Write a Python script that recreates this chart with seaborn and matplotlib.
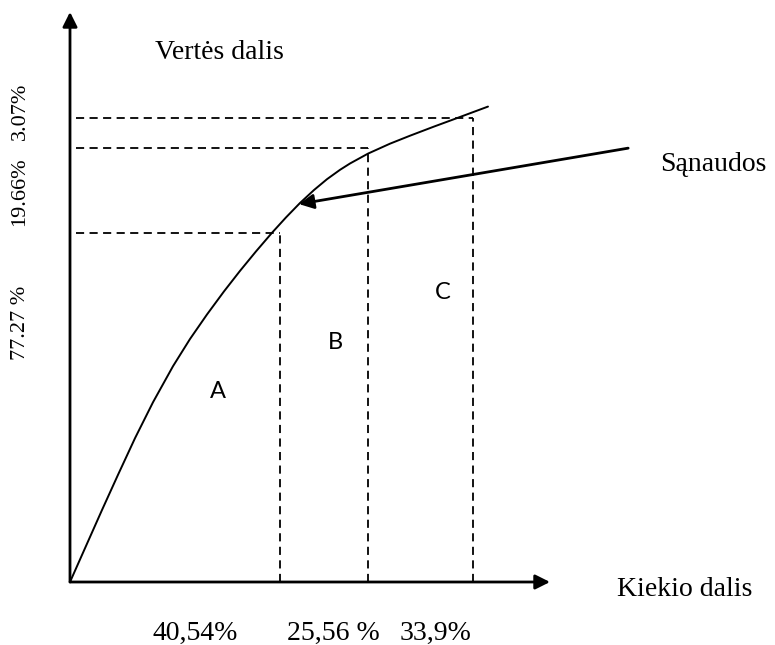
import numpy as np
import pandas as pd
import matplotlib
matplotlib.use("Agg")
import matplotlib.pyplot as plt
import seaborn as sns

# ABC analysis diagram (schematic units: 0..100 on both axes)
groups = ["A", "B", "C"]
qty_labels = ["40,54%", "25,56 %", "33,9%"]
value_labels = ["77.27 %", "19.66%", "3.07%"]

# group boundaries as drawn in the picture (schematic, not to scale)
bound_x = [52.1, 73.9, 100.0]
bound_y = [74.9, 93.1, 99.6]

# cumulative curve
curve_x = [0.0, 3.97, 7.94, 11.91, 16.13, 20.60, 25.56, 29.78, 34.00, 38.21,
           42.18, 46.15, 50.12, 53.60, 57.07, 60.55, 63.77, 67.00, 69.48,
           73.95, 79.40, 84.37, 90.32, 96.03, 103.72]
curve_y = [0.0, 7.73, 15.45, 23.00, 30.86, 38.58, 46.31, 52.15, 57.42, 62.36,
           66.76, 70.94, 74.94, 78.24, 81.33, 84.12, 86.44, 88.45, 89.81,
           91.93, 94.06, 95.77, 97.73, 99.55, 102.02]

df = pd.DataFrame({"kiekis": curve_x, "verte": curve_y})

sns.set_style("white")
plt.rcParams["font.family"] = ["Liberation Serif", "DejaVu Serif"]
plt.rcParams["text.color"] = "black"

fig = plt.figure(figsize=(7.75, 6.45), dpi=100)
# axes placed so that the origin sits at the axis corner
ax = fig.add_axes([70 / 775, 63 / 645, 480 / 775, 570 / 645])
xmax, ymax = 480 / 4.03, 570 / 4.66

# axes with arrow heads
arrow = dict(arrowstyle="-|>", lw=2, color="black", mutation_scale=22,
             shrinkA=0, shrinkB=0)
ax.annotate("", xy=(0, ymax), xytext=(0, 0), arrowprops=arrow,
            annotation_clip=False)
ax.annotate("", xy=(xmax, 0), xytext=(0, 0), arrowprops=arrow,
            annotation_clip=False)

# dashed boundary lines
dash = dict(color="black", lw=1.3, linestyle=(0, (4.5, 3)))
for bx, by in zip(bound_x, bound_y):
    ax.vlines(bx, 0, by, **dash)
    ax.hlines(by, 1.5, bx, **dash)

# the curve
sns.lineplot(data=df, x="kiekis", y="verte", ax=ax, color="black",
             lw=1.4, sort=False, estimator=None)
ax.set_xlim(0, xmax)
ax.set_ylim(0, ymax)
ax.axis("off")

# group letters
letter_pos = [(36.7, 40.8), (65.8, 51.5), (92.6, 62.2)]
for g, (lx, ly) in zip(groups, letter_pos):
    ax.text(lx, ly, g, fontsize=17, family="Lato", ha="center", va="center")

# percentage labels
qty_pos = [31.0, 65.3, 90.6]
for lab, qx in zip(qty_labels, qty_pos):
    ax.text(qx, -11.0, lab, fontsize=20, ha="center", va="center",
            clip_on=False)
val_pos = [55.6, 83.7, 100.9]
for lab, vy in zip(value_labels, val_pos):
    ax.text(-12.4, vy, lab, fontsize=16, rotation=90, ha="center",
            va="center", clip_on=False)

# axis titles
ax.text(37.2, 113.7, "Vertės dalis", fontsize=20, ha="center", va="center",
        clip_on=False)
ax.text(135.7, -1.7, "Kiekio dalis", fontsize=20, ha="left", va="center",
        clip_on=False)

# pointer to the curve
ax.annotate("", xy=(56.8, 81.1), xytext=(138.5, 93.1),
            arrowprops=dict(arrowstyle="-|>", lw=2, color="black",
                            mutation_scale=22, shrinkA=0, shrinkB=0),
            annotation_clip=False)
ax.text(146.4, 89.5, "Sąnaudos", fontsize=20, ha="left", va="center",
        clip_on=False)

fig.savefig("out.png", dpi=100)
